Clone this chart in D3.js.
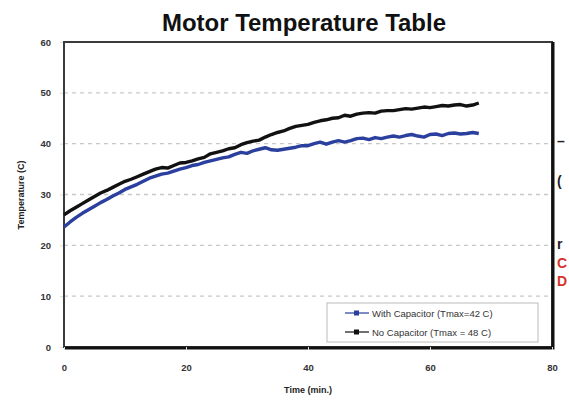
<!DOCTYPE html>
<html><head><meta charset="utf-8">
<script src="https://cdn.jsdelivr.net/npm/d3@7"></script>
<style>body{margin:0;background:#fff;overflow:hidden}svg{display:block}</style>
</head><body>
<svg id="c" width="569" height="400"></svg>
<script>
const title = "Motor Temperature Table";
const xLabel = "Time (min.)";
const yLabel = "Temperature (C)";
const xTicks = [0, 20, 40, 60, 80];
const yTicks = [0, 10, 20, 30, 40, 50, 60];
const times = d3.range(0, 69);
const withCap = [23.6,24.6,25.5,26.3,27.0,27.7,28.4,29.0,29.7,30.3,31.0,31.5,32.0,32.6,33.2,33.6,34.0,34.2,34.6,35.0,35.3,35.7,35.9,36.3,36.6,36.9,37.2,37.4,37.9,38.3,38.1,38.6,38.9,39.2,38.8,38.7,38.9,39.1,39.3,39.6,39.6,40.0,40.3,39.9,40.3,40.6,40.3,40.6,41.0,41.1,40.8,41.2,41.0,41.3,41.5,41.3,41.6,41.8,41.5,41.3,41.8,41.9,41.6,42.0,42.1,41.9,42.0,42.2,42.0];
const noCap = [26.0,26.8,27.5,28.2,28.9,29.6,30.3,30.8,31.4,32.0,32.6,33.0,33.5,34.0,34.5,35.0,35.3,35.2,35.7,36.2,36.3,36.6,37.0,37.3,38.0,38.3,38.6,39.0,39.2,39.8,40.2,40.5,40.7,41.3,41.8,42.2,42.5,43.0,43.4,43.6,43.8,44.2,44.5,44.7,45.0,45.1,45.6,45.4,45.8,46.0,46.1,46.0,46.4,46.5,46.5,46.7,46.9,46.8,47.0,47.2,47.1,47.3,47.5,47.4,47.6,47.7,47.4,47.6,48.0];
const seriesNames = ["With Capacitor (Tmax=42 C)", "No Capacitor (Tmax = 48 C)"];
const seriesColors = ["#2b3f9e", "#111111"];

const svg = d3.select("#c");
const m = {l:64, r:552, t:42, b:347};
const x = d3.scaleLinear().domain([0,80]).range([m.l, m.r]);
const y = d3.scaleLinear().domain([0,60]).range([m.b, m.t]);
const font = "'Liberation Sans', Arial, sans-serif";

// grid
svg.append("g").selectAll("line").data(yTicks.filter(v => v>0 && v<60)).join("line")
  .attr("x1", m.l).attr("x2", m.r).attr("y1", d=>y(d)).attr("y2", d=>y(d))
  .attr("stroke", "#c8c8c8").attr("stroke-width", 1.3).attr("stroke-dasharray", "4,4");

// frame
svg.append("rect").attr("x", m.l).attr("y", m.t).attr("width", m.r-m.l).attr("height", m.b-m.t)
  .attr("fill", "none").attr("stroke", "#3a3a3a").attr("stroke-width", 2);
svg.append("path").attr("d", `M${m.l},${m.b+1}H${m.r+1}V${m.t}`)
  .attr("fill","none").attr("stroke","#111").attr("stroke-width",3);

// axes labels
const ya = d3.axisLeft(y).tickValues(yTicks).tickSize(3).tickPadding(9);
const gy = svg.append("g").attr("transform", `translate(${m.l-1},0)`).call(ya);
const xa = d3.axisBottom(x).tickValues(xTicks).tickSize(3).tickPadding(14);
const gx = svg.append("g").attr("transform", `translate(0,${m.b})`).call(xa);
[gy, gx].forEach(g => {
  g.select(".domain").remove();
  g.selectAll(".tick line").attr("stroke", "#ddd");
  g.selectAll("text").attr("font-family", font).attr("font-size", 9.5).attr("font-weight", "bold").attr("fill", "#333");
});

// lines
const line = d3.line().x((d,i)=>x(times[i])).y(d=>y(d));
[withCap, noCap].forEach((s,i) => {
  svg.append("path").datum(s).attr("d", line).attr("fill","none")
    .attr("stroke", seriesColors[i]).attr("stroke-width", 3.4).attr("stroke-linejoin","round");
});

// title
svg.append("text").attr("x", 304).attr("y", 31).attr("text-anchor","middle")
  .attr("font-family", font).attr("textLength", 284).attr("lengthAdjust","spacingAndGlyphs")
  .attr("font-weight","bold").attr("font-size", 23).attr("fill","#111").text(title);
svg.append("text").attr("x", 308).attr("y", 393).attr("text-anchor","middle")
  .attr("font-family", font).attr("font-weight","bold").attr("font-size", 9).attr("fill","#222").text(xLabel);
svg.append("text").attr("transform","translate(24,195) rotate(-90)").attr("text-anchor","middle")
  .attr("font-family", font).attr("font-weight","bold").attr("font-size", 9).attr("fill","#222").text(yLabel);

// legend
const lg = svg.append("g");
lg.append("rect").attr("x",327).attr("y",303).attr("width",211).attr("height",39)
  .attr("fill","#fff").attr("stroke","#bbb").attr("stroke-width",1);
seriesNames.forEach((n,i) => {
  const yy = 313 + i*19;
  lg.append("line").attr("x1",345).attr("x2",369).attr("y1",yy).attr("y2",yy)
    .attr("stroke", seriesColors[i]).attr("stroke-width",1.2);
  lg.append("rect").attr("x",354).attr("y",yy-2.5).attr("width",5).attr("height",5).attr("fill",seriesColors[i]);
  lg.append("text").attr("x",372).attr("y",yy+3.5).attr("font-family",font).attr("font-size",9.5)
    .attr("fill","#333").text(n);
});

// neighbouring text fragments at right edge
const frag = [["–",146,"#222"],["(",186,"#222"],["r",249,"#222"],["C",268,"#d8322a"],["D",286,"#d8322a"]];
svg.append("g").selectAll("text").data(frag).join("text")
  .attr("x", 557).attr("y", d=>d[1]).attr("fill", d=>d[2])
  .attr("font-family", font).attr("font-weight","bold").attr("font-size", 14).text(d=>d[0]);
</script>
</body></html>
